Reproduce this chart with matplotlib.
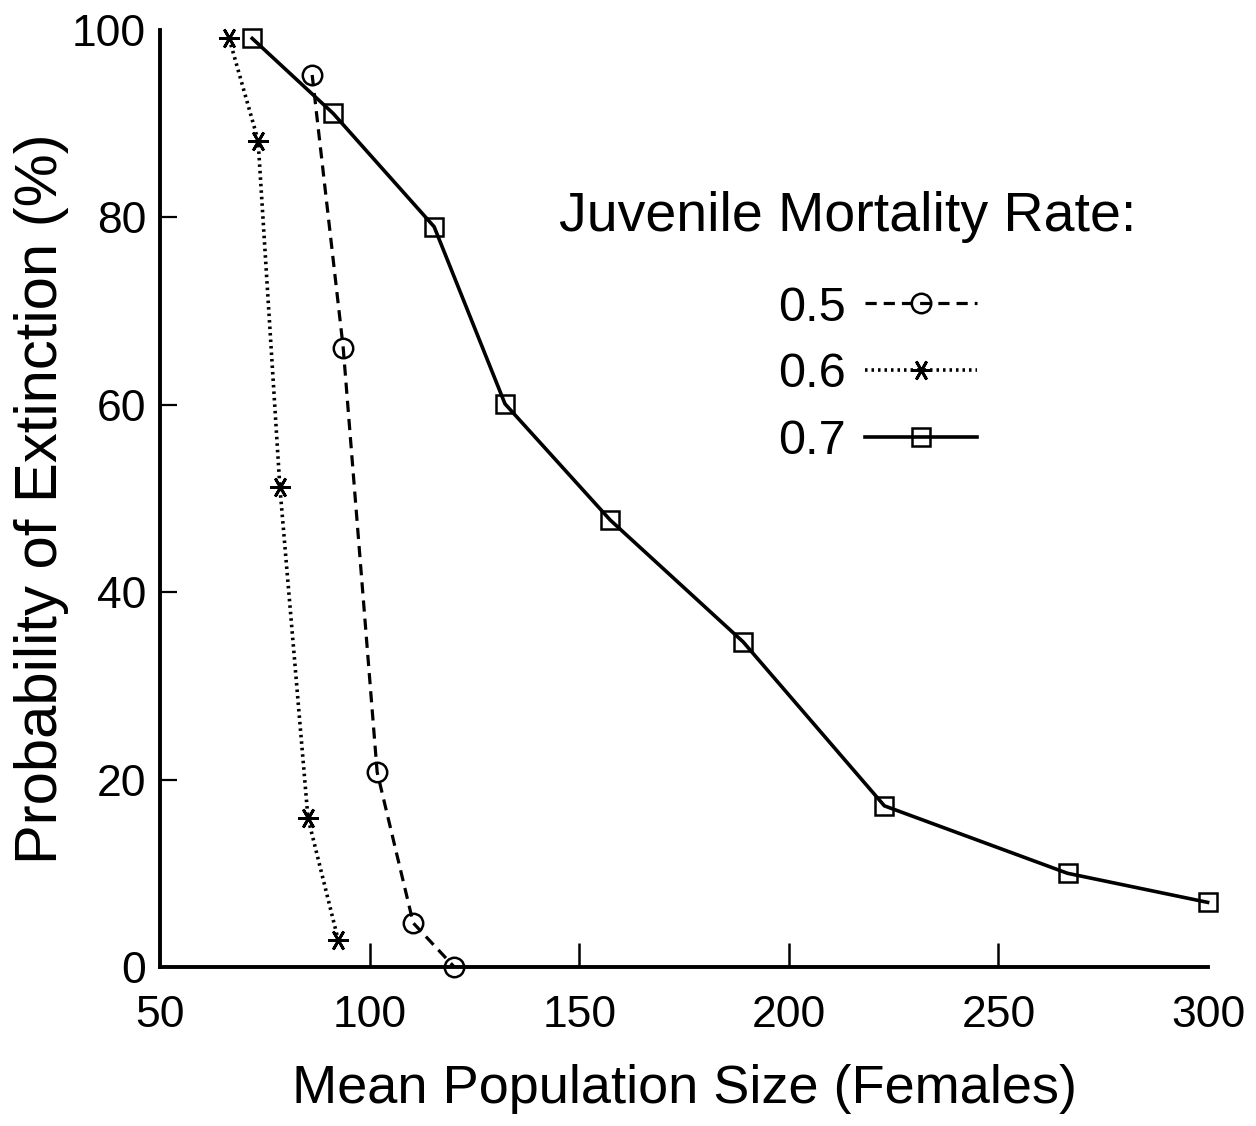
import matplotlib
matplotlib.use("Agg")
import matplotlib.pyplot as plt

plt.rcParams['font.family'] = ['Liberation Sans', 'DejaVu Sans']

# Data
x_05 = [86.3, 93.7, 101.8, 110.4, 120.2]
y_05 = [95.2, 66.1, 20.8, 4.7, 0.0]

x_06 = [66.5, 73.4, 78.6, 85.3, 92.5]
y_06 = [99.1, 88.2, 51.2, 15.9, 2.9]

x_07 = [72.0, 91.3, 115.4, 132.3, 157.4, 189.1, 222.8, 266.5, 299.9]
y_07 = [99.1, 91.1, 79.0, 60.1, 47.7, 34.7, 17.2, 10.0, 6.9]

series_labels = ['0.5', '0.6', '0.7']
x_ticks = [50, 100, 150, 200, 250, 300]
y_ticks = [0, 20, 40, 60, 80, 100]

fig = plt.figure(figsize=(12.56, 11.26), dpi=100)
ax = fig.add_axes([160/1256, 1 - 967/1126, (1208-160)/1256, (967-30)/1126])

ax.plot(x_05, y_05, color='black', lw=2.3, linestyle=(0, (3.5, 2.2)),
        marker='o', markersize=14, markerfacecolor='none', markeredgewidth=1.8,
        label=series_labels[0], clip_on=False)
ax.plot(x_06, y_06, color='black', lw=2.6, linestyle=(0, (0.7, 1.1)),
        marker=(6, 2, 90), markersize=15, markeredgewidth=2.0,
        label=series_labels[1], clip_on=False)
ax.plot(x_07, y_07, color='black', lw=2.6, linestyle='-',
        marker='s', markersize=13, markerfacecolor='none', markeredgewidth=1.8,
        label=series_labels[2], clip_on=False)

ax.set_xlim(50, 300)
ax.set_ylim(0, 100)
ax.set_xticks(x_ticks)
ax.set_yticks(y_ticks)

for s in ['top', 'right']:
    ax.spines[s].set_visible(False)
for s in ['left', 'bottom']:
    ax.spines[s].set_linewidth(2.8)

ax.tick_params(axis='x', direction='in', length=17, width=1.8, labelsize=32, pad=20)
ax.tick_params(axis='y', direction='in', length=12, width=1.6, labelsize=32, pad=10)

# hide tick marks that coincide with axis ends
xt = ax.xaxis.get_major_ticks()
xt[0].tick1line.set_visible(False)
xt[-1].tick1line.set_visible(False)
yt = ax.yaxis.get_major_ticks()
yt[0].tick1line.set_visible(False)
yt[-1].tick1line.set_visible(False)

ax.set_xlabel('Mean Population Size (Females)', fontsize=39, labelpad=20)
ax.set_ylabel('Probability of Extinction (%)', fontsize=43, labelpad=2)

ax.text(0.381, 0.80, 'Juvenile Mortality Rate:', transform=ax.transAxes,
        fontsize=40, ha='left', va='center')

leg = ax.legend(loc='upper left', bbox_to_anchor=(0.548, 0.774), frameon=False,
                markerfirst=False, fontsize=35, handlelength=2.3,
                handletextpad=0.4, labelspacing=0.45)

fig.savefig('out.png', dpi=100)
